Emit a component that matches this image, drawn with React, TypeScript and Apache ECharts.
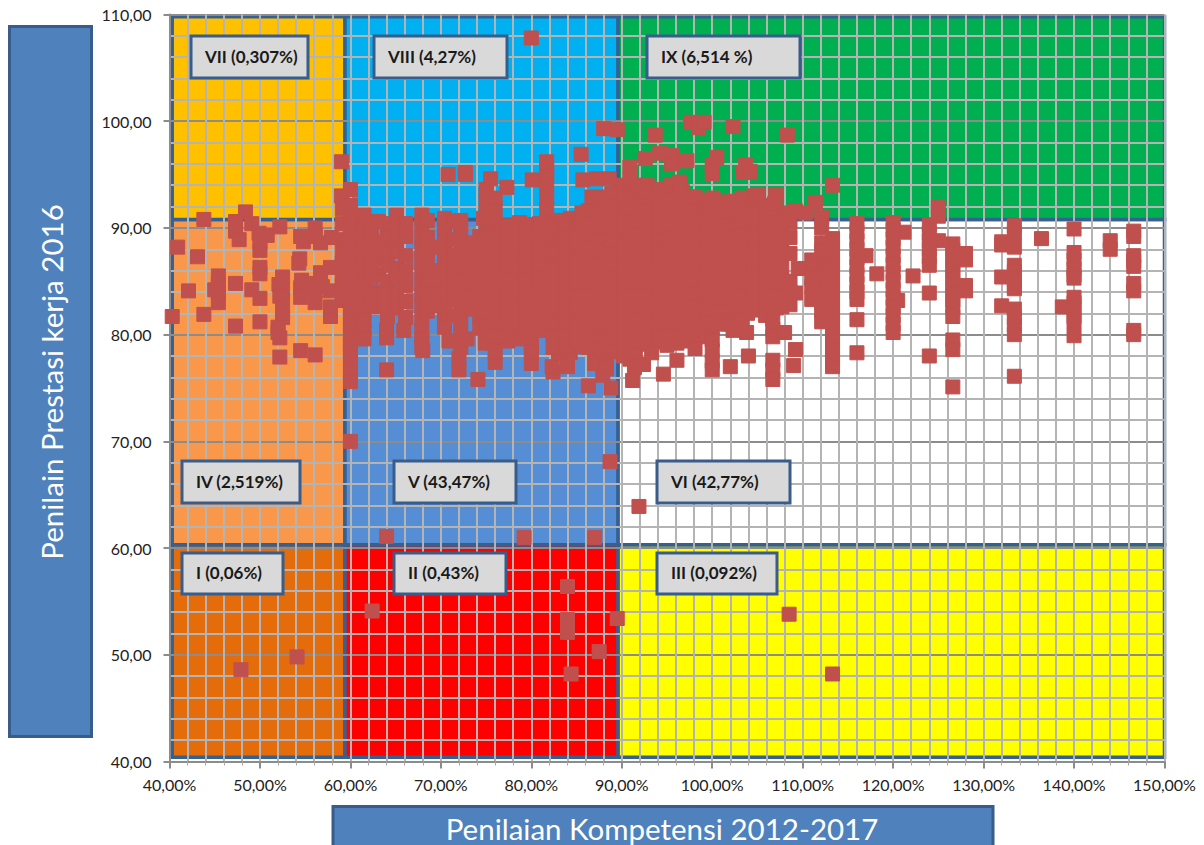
import React, { useEffect, useRef } from "react";
import * as echarts from "echarts";

const xTitle = "Penilaian Kompetensi 2012-2017";
const yTitle = "Penilain Prestasi kerja 2016";

// [x0, y0, x1, y1, colour]
const regions: [number, number, number, number, string][] = [
  [40.3, 40.4, 59.4, 60.3, "#E46C0A"],
  [59.4, 40.4, 89.6, 60.3, "#FF0000"],
  [89.6, 40.4, 150, 60.3, "#FFFF00"],
  [40.3, 60.3, 59.4, 90.8, "#F9974B"],
  [59.4, 60.3, 89.6, 90.8, "#558ED5"],
  [89.6, 60.3, 150, 90.8, "#FFFFFF"],
  [40.3, 90.8, 59.4, 109.8, "#FFC000"],
  [59.4, 90.8, 89.6, 109.8, "#00B0F0"],
  [89.6, 90.8, 150, 109.8, "#00B050"],
];

const quadrantLabels: [string, number, number, number, number][] = [
  ["VII (0,307%)", 191, 36, 117, 42],
  ["VIII (4,27%)", 374, 36, 133, 42],
  ["IX (6,514 %)", 647, 36, 153, 42],
  ["IV (2,519%)", 182, 461, 118, 42],
  ["V (43,47%)", 394, 461, 122, 42],
  ["VI (42,77%)", 657, 461, 133, 42],
  ["I (0,06%)", 182, 553, 101, 41],
  ["II (0,43%)", 394, 553, 112, 41],
  ["III (0,092%)", 657, 553, 120, 41],
];

const outlierPoints: [number, number][] = [
  [80, 107.8], [60, 70], [88.7, 68.1], [91.9, 63.9], [64, 61.1], [79.2, 61], [87, 61], [84, 56.4],
  [84, 53.3], [84, 52.1], [89.5, 53.4], [87.5, 50.3], [84.4, 48.2], [62.4, 54.1], [47.9, 48.6],
  [54.1, 49.8], [108.5, 53.8], [113.3, 48.2],
];

const leftPoints: [number, number][] = [
  [43.8, 90.8], [48.4, 91.5], [47.3, 90.6], [47.3, 89.7], [47.7, 88.9], [49.1, 90.4], [40.9, 88.2],
  [43.1, 87.3], [49.9, 89.5], [50, 87.9], [50.8, 89.3], [52.2, 90.1], [50, 88.6], [50, 86.3], [50, 85.7],
  [45.4, 85.5], [45.4, 84.6], [45, 84.2], [45.4, 83.9], [45.4, 83], [47.3, 84.8], [49.1, 84.2], [50, 83.4],
  [42.1, 84.1], [40.3, 81.7], [43.8, 81.9], [47.3, 80.8], [50, 81.2], [52.5, 85.4], [52.1, 84.7],
  [52.5, 84.1], [52.2, 83.6], [52.5, 83.3], [52.5, 82], [52.5, 81.6], [52, 80.7], [52.2, 79.7], [52, 80.2],
  [52.2, 77.9], [54.5, 78.5], [56.1, 78.1], [54.5, 89.2], [54.8, 88.7], [56.1, 90], [56.1, 89.2],
  [56.7, 88.6], [57.9, 89.1], [54.4, 87.1], [54.3, 86.7], [54.6, 85.1], [54.5, 84.4], [54.5, 83.5],
  [56.1, 84.8], [56.1, 84.1], [56.1, 83], [56.7, 85.8], [57.8, 86.3], [56.9, 84.5], [57.8, 84.1],
  [57.8, 81.7], [57.8, 82.6], [59, 96.2], [59, 93], [60, 93.6],
];

const rightPoints: [number, number][] = [
  [146.6, 89.7], [146.6, 89.2], [146.6, 87.4], [146.6, 86.9], [146.6, 86.4], [146.6, 84.8], [146.6, 84.1],
  [146.6, 80.4], [146.6, 80], [144, 88.8], [144, 88], [140, 89.9], [140, 87.7], [140, 87], [140, 86.2],
  [140, 85.6], [140, 85.3], [140, 83.5], [140, 83], [140, 82.5], [140, 81.7], [140, 81.2], [140, 79.9],
  [138.7, 82.6], [136.4, 89], [133.4, 90.2], [133.4, 89.5], [133.4, 88.2], [133.4, 86.5], [133.4, 85.9],
  [133.4, 85.2], [133.4, 84.5], [133.4, 84.3], [133.4, 82.4], [133.4, 81.6], [133.4, 80.9], [133.4, 80],
  [133.4, 76.1], [132, 88.7], [132, 88.4], [132, 85.4], [132, 82.7], [128, 87.6], [128, 87], [128, 84.6],
  [128, 84.1], [126.6, 88.5], [126.6, 87.9], [126.6, 87.2], [126.6, 86.5], [126.6, 85.9], [126.6, 85.2],
  [126.6, 84.5], [126.6, 83.8], [126.6, 83.2], [126.6, 82.5], [126.6, 81.7], [126.6, 79.5], [126.6, 78.6],
  [126.6, 75.1], [125, 91.9], [125, 91.1], [125, 88.8], [124, 90.3], [124, 89.5], [124, 88.8], [124, 88],
  [124, 87.3], [124, 86.5], [124, 83.9], [124, 78], [122.2, 85.5], [121.2, 89.6], [120.5, 83.2],
  [120, 90.5], [120, 89.8], [120, 89], [120, 88.2], [120, 87.4], [120, 86.6], [120, 85.8], [120, 85],
  [120, 84.2], [120, 83.4], [120, 82.6], [120, 81.8], [120, 81], [120, 80.2], [118.2, 85.7], [117, 87.4],
  [116, 90.4], [116, 89.6], [116, 88.8], [116, 88], [116, 87.2], [116, 86.4], [116, 85.6], [116, 84.8],
  [116, 84], [116, 83.3], [116, 81.4], [116, 78.3], [113.3, 94], [113.3, 89], [113.3, 88.2], [113.3, 87.4],
  [113.3, 86.6], [113.3, 85.8], [113.3, 85], [113.3, 84.2], [113.3, 83.4], [113.3, 82.6], [113.3, 81.8],
  [113.3, 81], [113.3, 80.2], [113.3, 79.4], [113.3, 78.6], [113.3, 77.8], [113.3, 77], [112.1, 91],
  [112.1, 90], [112.1, 88.6], [112.1, 87.8], [112.1, 87], [112.1, 86.2], [112.1, 85.4], [112.1, 84.6],
  [112.1, 83.8], [112.1, 83], [112.1, 82.2], [112.1, 81.2], [111.4, 92.4], [111, 87], [111, 86.2],
  [111, 85.3], [111, 84.5], [111, 83.3], [110.3, 91.4], [109.2, 91.6], [109.2, 78.6], [109, 77.1],
  [108, 80.2], [109.5, 86.2], [109.2, 83.9], [108.3, 98.7],
];

const topPoints: [number, number][] = [
  [70.8, 95], [72.7, 95], [72.7, 95.2], [75.5, 94.6], [77.3, 93.8], [81.7, 96.2], [81.7, 95.5], [81.7, 94.8],
  [81.7, 94], [80.1, 94.5], [85.5, 96.9], [85.7, 94.5], [87.2, 94.6], [88.6, 94.6], [86.7, 92.9], [93.7, 98.7],
  [88, 99.3], [89.5, 99.2], [90.9, 95.7], [90.9, 94.5], [92.6, 96.5], [94.2, 97], [95.6, 96.8], [95.5, 96],
  [97, 96.3], [96.4, 94.3], [92, 93.5], [97.2, 96.3], [97.6, 99.9], [98.5, 99.4], [99.1, 99.9], [96.4, 94.2],
  [100.1, 92.8], [98.1, 92.9], [100, 95.1], [100, 95.9], [100.5, 96.6], [102.3, 99.5], [103.4, 95.2],
  [104.2, 95.3], [103.7, 95.9], [105, 93.1], [107, 93.1], [106.9, 92.3],
];

const lowerPoints: [number, number][] = [
  [106.7, 81.4], [106.7, 80.5], [106.7, 79.8], [106.7, 77.6], [106.7, 76.7], [106.7, 75.8], [104, 78],
  [102, 77], [100, 79.5], [100, 78.5], [100, 77.5], [100, 76.7], [98.1, 78.7], [103.8, 80.2], [102.3, 80.4],
  [101, 81], [94.6, 76.3], [96.1, 77.6], [91.2, 75.7], [92.4, 77.2], [91.4, 76.9], [93.3, 78.3], [95, 79],
  [88.8, 75], [87.9, 76.2], [86.3, 75.2], [84, 77], [82.4, 76.5], [82.3, 77], [80, 77.3], [80, 78.4],
  [76, 77.4], [76, 78.4], [74.1, 75.8], [72, 76.7], [72, 77.8], [68, 78.5], [67.9, 78.8], [64, 76.7],
  [65.9, 80.4], [64, 79.7], [64, 80.4], [70.9, 79.4], [72.9, 79.6], [74.9, 79.2], [77.4, 79.4], [78.6, 79.6],
  [76, 79.9],
];

const denseColumns: [number, number[]][] = [
  [59.1, [91.8, 90.4, 88.9, 87.6, 86.7, 85.5, 84.6, 83.9, 83.2]],
  [60, [92.1, 91.2, 90.3, 89.7, 88.7, 88, 87.1, 86.5, 85.6, 84.7, 84.1, 83.1, 82.5, 81.6, 80.9, 80, 79.1, 78.5, 77.6, 76.4, 75.6]],
  [61.5, [91.2, 90.2, 89.1, 88, 87.2, 86, 85.1, 84.3, 83.4, 82.2, 81.3, 80.4, 79.6]],
  [63.1, [90.6, 88.7, 88, 87.1, 85.6, 84, 82.6]],
  [64.1, [90.4, 89.1, 87.7, 86.5, 85, 84.1, 83, 81.7]],
  [65.1, [91.2, 90, 89, 87.8, 86.2, 85.2, 83.8, 82.5]],
  [66.1, [90.4, 89.2, 87.4, 86, 84.6, 83.1, 81.6]],
  [67.9, [91.2, 90.2, 89, 88, 87, 85.8, 84.7, 83.7, 82.7, 81.4, 80.3, 79.6]],
  [68.5, [90.7, 89.1, 87.7, 86.5, 85, 83.4, 82.2]],
  [70.4, [90.9, 89.8, 88.7, 87.5, 86.4, 85.4, 84.3, 83.2, 82.2, 81.1, 80.7]],
  [71.4, [90.6, 88.9, 87.4, 86, 84.7, 83.3, 81.8]],
  [72.2, [90.7, 89.5, 88.4, 87.3, 86, 85, 84, 82.9, 81.6, 80.5, 79.4, 78.8]],
  [73.3, [88.6, 87.3, 86, 84.8, 83.6, 82.4]],
  [74.3, [89.2, 87.9, 86.6, 85.4, 84.2, 83, 81.7, 80.6]],
  [75, [93.6, 92.5, 91.4, 90.3, 89.2, 88.1, 87, 85.9, 84.8, 83.7, 82.6, 81.5, 80.4]],
  [76, [92.8, 91.6, 90.5, 89.3, 88.1, 87, 85.9, 84.7, 83.6, 82.4, 81.3, 80.2, 79.3]],
  [77.3, [90.2, 89, 87.9, 86.7, 85.6, 84.5, 83.3, 82.2, 81, 80.5]],
  [78.7, [90.5, 89.4, 88.2, 87.1, 85.9, 84.7, 83.4, 82.4, 81.2, 80.8]],
  [80, [90.3, 89.1, 88, 86.8, 85.7, 84.5, 83.4, 82.2, 81, 79.9, 78.9]],
  [81.7, [92.8, 91.7, 90.6, 89.4, 88.3, 87.1, 86, 84.9, 83.7, 82.5, 81.4, 80.6]],
  [83, [90.7, 89.5, 88.4, 87.2, 86, 84.9, 83.8, 82.6, 81.5, 80.3, 79.3, 78.2]],
  [84.3, [90.9, 89.7, 88.6, 87.4, 86.2, 85.1, 83.9, 82.8, 81.7, 80.5, 79.4, 78.3]],
  [85.6, [91.4, 90.1, 88.9, 87.8, 86.7, 85.5, 84.3, 83.2, 82, 80.9, 79.8, 78.9]],
  [87, [92, 90.8, 89.7, 88.5, 87.4, 86.2, 85, 83.9, 82.7, 81.6, 80.5, 79.3, 78.2, 77.3]],
  [88.3, [92.9, 91.7, 90.6, 89.4, 88.3, 87.1, 85.9, 84.8, 83.7, 82.5, 81.4, 80.2, 79.1, 78, 76.8]],
  [89.6, [93.3, 92.2, 91, 89.9, 88.7, 87.5, 86.4, 85.3, 84.1, 82.9, 81.8, 80.6, 79.6, 78.5]],
  [90.9, [93.6, 92.4, 91.2, 90, 88.9, 87.7, 86.6, 85.5, 84.3, 83.1, 82, 80.9, 79.8, 78.6, 77.7]],
  [92.2, [93.4, 92.1, 91, 89.8, 88.6, 87.5, 86.3, 85.2, 84, 82.9, 81.7, 80.6, 79.6]],
  [93.5, [92.8, 91.6, 90.4, 89.3, 88.2, 87, 85.9, 84.7, 83.5, 82.4, 81.3, 80.1, 79.3]],
  [94.8, [93.2, 92, 90.9, 89.7, 88.6, 87.4, 86.2, 85.1, 83.9, 82.8, 81.7, 80.6, 79.5]],
  [96.1, [93.1, 91.9, 90.8, 89.6, 88.4, 87.3, 86.1, 85, 83.8, 82.7, 81.5, 80.4, 79.2]],
  [97.4, [92.6, 91.5, 90.3, 89.2, 88, 86.9, 85.7, 84.6, 83.4, 82.3, 81.1, 80, 79.4]],
  [98.7, [92.2, 91.1, 89.9, 88.8, 87.6, 86.5, 85.3, 84.2, 83, 81.9, 80.7, 79.8]],
  [100, [92.1, 90.9, 89.8, 88.6, 87.5, 86.3, 85.2, 84, 82.9, 81.7, 80.6]],
  [101.3, [91.9, 90.8, 89.6, 88.5, 87.3, 86.2, 85, 83.9, 82.7, 81.6]],
  [102.6, [92.1, 90.9, 89.8, 88.6, 87.5, 86.3, 85.2, 84, 82.9, 81.7]],
  [103.9, [92.4, 91.2, 90.1, 88.9, 87.8, 86.6, 85.5, 84.3, 83.2, 82]],
  [105.2, [91.8, 90.7, 89.5, 88.4, 87.2, 86.1, 84.9, 83.8, 82.6]],
  [106.5, [91.2, 90, 88.9, 87.7, 86.6, 85.4, 84.3, 83.1, 82]],
  [107.7, [91.4, 90.2, 89, 87.8, 86.4, 85.1, 83.7, 82.6]],
  [108.6, [90.5, 89.1, 87.6, 85, 84, 82.8]],
];

// second pass through the solid part of the cloud, between the columns above
const fillColumns: [number, number[]][] = [
  [62.3, [89.6, 86.8, 85.4, 83.8, 82.9]],
  [69.4, [88.2, 86, 84.8, 83.8, 82.7]],
  [74.7, [90.9, 88.5, 87.2, 86, 84.6, 83.4, 82.2]],
  [77.9, [89.6, 88.4, 87.3, 86.2, 85, 83.9, 82.7, 81.6]],
  [79.4, [89.7, 88.5, 87.5, 86.3, 85.1, 84, 82.8, 81.7, 80.1]],
  [80.9, [90.4, 89.9, 88.7, 87.7, 86.4, 85.3, 84.2, 83, 81.8, 80.4]],
  [82.4, [90.2, 89, 87.8, 86.6, 85.5, 84.3, 83.2, 82, 80.9, 79.9, 78.8]],
  [83.7, [90.3, 89.1, 88, 86.8, 85.6, 84.5, 83.4, 82.2, 81, 79.9, 78.8]],
  [85, [90.5, 89.3, 88.2, 87, 85.8, 84.7, 83.6, 82.4, 81.2, 80.1, 79.3]],
  [86.3, [91.6, 90.4, 89.2, 88.1, 87, 85.8, 84.6, 83.5, 82.3, 81.2, 80, 78.8]],
  [87.6, [92.4, 91.2, 90.1, 88.9, 87.8, 86.6, 85.4, 84.3, 83.2, 82, 80.9, 79.7, 78.6]],
  [88.9, [93.2, 92.1, 91, 89.9, 88.7, 87.6, 86.4, 85.3, 84.1, 83, 81.9, 80.7, 79.5, 78.4]],
  [90.2, [94, 92.9, 91.7, 90.6, 89.4, 88.3, 87.1, 86, 84.9, 83.7, 82.5, 81.4, 80.2, 79.1, 78]],
  [91.5, [94, 92.9, 91.7, 90.5, 89.3, 88.2, 87.1, 85.9, 84.7, 83.6, 82.4, 81.3, 80.2, 79, 78.1]],
  [92.8, [94, 92.9, 91.6, 90.5, 89.2, 88, 86.9, 85.8, 84.6, 83.5, 82.3, 81.2, 80.1, 79.1]],
  [94.1, [93.6, 92.4, 91.2, 90.1, 88.9, 87.8, 86.7, 85.5, 84.3, 83.2, 82, 80.9, 79.8]],
  [95.4, [94, 92.6, 91.4, 90.3, 89.1, 87.9, 86.8, 85.6, 84.5, 83.3, 82.2, 81, 79.9]],
  [96.7, [93.4, 92.3, 91.1, 90, 88.8, 87.7, 86.5, 85.4, 84.2, 83.1, 81.9, 80.8, 79.7]],
  [98, [92.9, 91.8, 90.7, 89.5, 88.4, 87.2, 86.1, 84.9, 83.8, 82.6, 81.5, 80.4]],
  [99.3, [92.6, 91.5, 90.3, 89.2, 88, 86.9, 85.7, 84.6, 83.4, 82.3, 81.1, 80.2]],
  [100.7, [92.4, 91.3, 90.2, 89, 87.9, 86.7, 85.6, 84.4, 83.3, 82.1, 81]],
  [102, [92.5, 91.3, 90.2, 89.1, 87.9, 86.8, 85.6, 84.5, 83.3, 82.2, 81]],
  [103.3, [92.8, 91.7, 90.5, 89.3, 88.2, 87.1, 85.9, 84.8, 83.6, 82.5, 81.3]],
  [104.6, [93, 91.4, 90.3, 89.2, 88, 86.9, 85.7, 84.6, 83.4, 82.3]],
  [105.9, [92.1, 90.9, 89.8, 88.6, 87.5, 86.3, 85.2, 84, 82.9, 81.8]],
  [107.1, [91.6, 90.5, 89.4, 88.2, 87.1, 85.9, 84.8, 83.6, 82.5]],
];

const scatterData: [number, number][] = [
  ...leftPoints,
  ...denseColumns.flatMap(([x, ys]) => ys.map((y) => [x, y] as [number, number])),
  ...fillColumns.flatMap(([x, ys]) => ys.map((y) => [x, y] as [number, number])),
  ...topPoints,
  ...lowerPoints,
  ...rightPoints,
  ...outlierPoints,
];

const FONT = "Lato";

export default function App() {
  const ref = useRef<HTMLDivElement>(null);
  useEffect(() => {
    const chart = echarts.init(ref.current!, undefined, { renderer: "svg" });
    const minor = { show: true, lineStyle: { color: "#b4b4b4", width: 2 } };
    const graphicBoxes = quadrantLabels.flatMap(([label, x, y, w, h]) => [
      {
        type: "rect",
        z: 100,
        shape: { x, y, width: w, height: h },
        style: { fill: "#D9D9D9", stroke: "#385D8A", lineWidth: 3 },
      },
      {
        type: "text",
        z: 101,
        x: x + 14,
        y: y + h / 2 - 1,
        style: {
          text: label,
          fill: "#1a1a1a",
          font: `bold 17px ${FONT}`,
          textVerticalAlign: "middle",
        },
      },
    ]);
    chart.setOption({
      animation: false,
      backgroundColor: "#ffffff",
      grid: { left: 169.5, right: 39.5, top: 14.5, bottom: 83.5, containLabel: false },
      xAxis: {
        type: "value",
        min: 40,
        max: 150,
        interval: 10,
        axisLine: { show: true, onZero: false, lineStyle: { color: "#8c8c8c", width: 2 } },
        axisTick: { show: true, length: 7, lineStyle: { color: "#8c8c8c", width: 2 } },
        minorTick: { show: true, splitNumber: 5, length: 4, lineStyle: { color: "#a8a8a8", width: 1 } },
        splitLine: { show: true, lineStyle: { color: "#b4b4b4", width: 2 } },
        minorSplitLine: minor,
        axisLabel: {
          color: "#222",
          fontFamily: FONT,
          fontSize: 16,
          margin: 15,
          formatter: (v: number) => v.toFixed(2).replace(".", ",") + "%",
        },
      },
      yAxis: {
        type: "value",
        min: 40,
        max: 110,
        interval: 10,
        axisLine: { show: true, onZero: false, lineStyle: { color: "#8c8c8c", width: 2 } },
        axisTick: { show: true, length: 6, lineStyle: { color: "#8c8c8c", width: 2 } },
        minorTick: { show: false, splitNumber: 5 },
        splitLine: { show: true, lineStyle: { color: "#8c8c8c", width: 2 } },
        minorSplitLine: minor,
        axisLabel: {
          color: "#222",
          fontFamily: FONT,
          fontSize: 16,
          margin: 18,
          formatter: (v: number) => v.toFixed(2).replace(".", ","),
        },
      },
      series: [
        {
          type: "custom",
          z: -1,
          silent: true,
          coordinateSystem: "cartesian2d",
          encode: { x: [0, 2], y: [1, 3] },
          data: regions,
          renderItem: (_: any, api: any) => {
            const a = api.coord([api.value(0), api.value(1)]);
            const b = api.coord([api.value(2), api.value(3)]);
            return {
              type: "rect",
              shape: { x: a[0], y: b[1], width: b[0] - a[0], height: a[1] - b[1] },
              style: { fill: api.value(4), stroke: "#376092", lineWidth: 3.5 },
            };
          },
        },
        {
          type: "scatter",
          z: 5,
          symbol: "rect",
          symbolSize: 14,
          itemStyle: { color: "#C0504D", borderColor: "#C0504D", borderWidth: 1, opacity: 1 },
          data: scatterData,
        },
      ],
      graphic: {
        z: 100,
        elements: [
          ...graphicBoxes,
          {
            type: "rect",
            z: 100,
            shape: { x: 9.5, y: 26.5, width: 82, height: 710 },
            style: { fill: "#4F81BD", stroke: "#385D8A", lineWidth: 3 },
          },
          {
            type: "text",
            z: 101,
            x: 51,
            y: 382,
            rotation: Math.PI / 2,
            style: {
              text: yTitle,
              fill: "#ffffff",
              font: `29.5px ${FONT}`,
              textAlign: "center",
              textVerticalAlign: "middle",
            },
          },
          {
            type: "rect",
            z: 100,
            shape: { x: 333, y: 806.5, width: 660, height: 50 },
            style: { fill: "#4F81BD", stroke: "#385D8A", lineWidth: 3 },
          },
          {
            type: "text",
            z: 101,
            x: 662,
            y: 828,
            style: {
              text: xTitle,
              fill: "#ffffff",
              font: `29.5px ${FONT}`,
              textAlign: "center",
              textVerticalAlign: "middle",
            },
          },
        ],
      },
    });
    return () => chart.dispose();
  }, []);
  return (
    <div
      ref={ref}
      style={{ position: "absolute", left: 0, top: 0, width: 1204, height: 845, overflow: "hidden" }}
    />
  );
}
